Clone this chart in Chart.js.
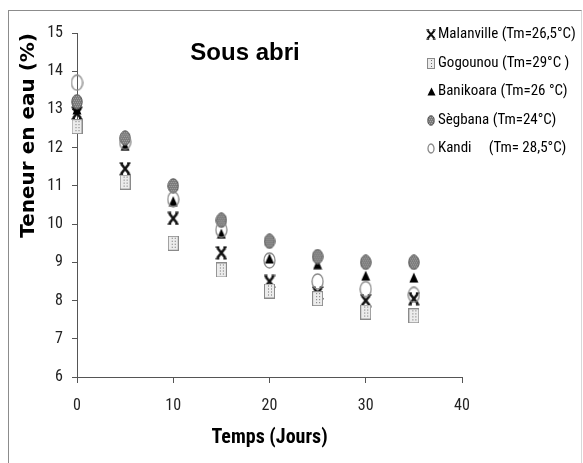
<!DOCTYPE html>
<html>
<head>
<meta charset="utf-8">
<script src="https://cdn.jsdelivr.net/npm/chart.js@4/dist/chart.umd.min.js"></script>
<style>
html,body{margin:0;padding:0;background:#fff;}
#wrap{position:relative;width:583px;height:463px;}
#frame{position:absolute;left:8px;top:10px;width:572px;height:460px;border-left:1px solid #8c8c8c;border-top:1px solid #8c8c8c;border-right:1px solid #d8d8d8;pointer-events:none;}
</style>
</head>
<body>
<div id="wrap"><canvas id="c" width="583" height="463"></canvas><div id="frame"></div></div>
<script>
// ---- data ----
const days = [0, 5, 10, 15, 20, 25, 30, 35];
const seriesNames = ['Malanville (Tm=26,5°C)', 'Gogounou (Tm=29°C )', 'Banikoara (Tm=26 °C)', 'Sègbana (Tm=24°C)', 'Kandi     (Tm= 28,5°C)'];
const malanville = [12.9, 11.45, 10.15, 9.25, 8.5, 8.2, 8.0, 8.05];
const gogounou   = [12.55, 11.1, 9.5, 8.8, 8.25, 8.05, 7.7, 7.6];
const banikoara  = [13.0, 12.05, 10.6, 9.75, 9.1, 8.95, 8.65, 8.6];
const segbana    = [13.2, 12.25, 11.0, 10.1, 9.55, 9.15, 9.0, 9.0];
const kandi      = [13.7, 12.15, 10.65, 9.85, 9.05, 8.5, 8.3, 8.15];
const yTicks = [6, 7, 8, 9, 10, 11, 12, 13, 14, 15];
const xTicks = [0, 10, 20, 30, 40];
const chartTitle = 'Sous abri';
const xTitle = 'Temps (Jours)';
const yTitle = 'Teneur en eau (%)';

const NARROW = '"Liberation Sans Narrow", "Roboto Condensed", Roboto, sans-serif';

// ---- marker images ----
function mk(w, h, draw) {
  const c = document.createElement('canvas');
  c.width = w; c.height = h;
  draw(c.getContext('2d'), w, h);
  return c;
}
function xMark(s) {
  return mk(Math.round(12*s), Math.round(14*s), (g, w, h) => {
    g.strokeStyle = '#111'; g.lineCap = 'butt';
    g.lineWidth = 2.6*s;
    g.beginPath(); g.moveTo(2*s, 2*s); g.lineTo(w-2*s, h-2*s); g.moveTo(w-2*s, 2*s); g.lineTo(2*s, h-2*s); g.stroke();
    g.lineWidth = 1.6*s;
    g.beginPath(); g.moveTo(0.5*s, 1.2*s); g.lineTo(4*s, 1.2*s); g.moveTo(w-4*s, 1.2*s); g.lineTo(w-0.5*s, 1.2*s);
    g.moveTo(0.5*s, h-1.2*s); g.lineTo(4*s, h-1.2*s); g.moveTo(w-4*s, h-1.2*s); g.lineTo(w-0.5*s, h-1.2*s); g.stroke();
  });
}
function sqMark(s) {
  return mk(Math.round(11*s), Math.round(15*s), (g, w, h) => {
    g.fillStyle = '#ececec'; g.fillRect(0, 0, w, h);
    g.fillStyle = '#6a6a6a';
    for (let yy = 2; yy < h-1; yy += 3) for (let xx = 2 + ((yy/3)%2 ? 1.5 : 0); xx < w-1; xx += 3) g.fillRect(Math.round(xx), yy, 1, 1);
    g.strokeStyle = '#8a8a8a'; g.lineWidth = 1; g.strokeRect(0.5, 0.5, w-1, h-1);
  });
}
function triMark(s) {
  return mk(Math.round(10*s), Math.round(11*s), (g, w, h) => {
    g.fillStyle = '#000';
    g.beginPath(); g.moveTo(w/2, 0.5); g.lineTo(w-0.5, h-0.5); g.lineTo(0.5, h-0.5); g.closePath(); g.fill();
  });
}
function segMark(s) {
  return mk(Math.round(12*s), Math.round(16*s), (g, w, h) => {
    g.save();
    g.beginPath(); g.ellipse(w/2, h/2, w/2-0.8, h/2-0.8, 0, 0, Math.PI*2); g.closePath();
    g.fillStyle = '#7a7a7a'; g.fill(); g.clip();
    g.fillStyle = '#a8a8a8';
    for (let yy = 0; yy < h; yy += 2) for (let xx = (yy/2)%2; xx < w; xx += 2) g.fillRect(xx, yy, 1, 1);
    g.restore();
    g.beginPath(); g.ellipse(w/2, h/2, w/2-0.8, h/2-0.8, 0, 0, Math.PI*2);
    g.strokeStyle = '#555'; g.lineWidth = 1; g.stroke();
  });
}
function circMark(s) {
  return mk(Math.round(13*s), Math.round(17*s), (g, w, h) => {
    g.beginPath(); g.ellipse(w/2, h/2, w/2-1, h/2-1, 0, 0, Math.PI*2);
    g.strokeStyle = '#8a8a8a'; g.lineWidth = 1.3; g.stroke();
  });
}
const markers = [xMark(1), sqMark(1), triMark(1), segMark(1), circMark(1)];
const legendMarkers = [xMark(0.8), sqMark(0.75), triMark(0.85), segMark(0.7), circMark(0.65)];
const seriesValues = [malanville, gogounou, banikoara, segbana, kandi];

const datasets = seriesValues.map((vals, i) => ({
  label: seriesNames[i],
  data: days.map((d, j) => ({x: d, y: vals[j]})),
  pointStyle: markers[i],
  showLine: false,
  clip: false,
  order: 5 - i
}));

const overlay = {
  id: 'overlay',
  afterDraw(chart) {
    const g = chart.ctx;
    g.save();
    // title
    g.fillStyle = '#000';
    g.font = 'bold 24px "Liberation Sans"';
    g.textAlign = 'center'; g.textBaseline = 'middle';
    g.fillText(chartTitle, 245, 53);
    // legend
    g.font = '15px ' + NARROW;
    g.textAlign = 'left';
    const rowY = [34, 63, 91, 120, 148];
    seriesNames.forEach((n, i) => {
      const m = legendMarkers[i];
      g.drawImage(m, Math.round(431 - m.width/2), Math.round(rowY[i] - m.height/2));
      g.fillText(n, 438, rowY[i]);
    });
    g.restore();
  }
};

new Chart(document.getElementById('c'), {
  type: 'scatter',
  data: { datasets },
  plugins: [overlay],
  options: {
    responsive: false,
    animation: false,
    events: [],
    layout: { padding: { top: 33, right: 121, bottom: 0, left: 0 } },
    plugins: { legend: { display: false }, tooltip: { enabled: false } },
    scales: {
      x: {
        type: 'linear', min: 0, max: 40,
        afterBuildTicks: s => { s.ticks = xTicks.map(v => ({value: v})); },
        afterFit: s => { s.height = 86; },
        grid: { display: true, drawOnChartArea: false, drawTicks: true, tickLength: 6, color: '#555' },
        border: { display: true, color: '#555', width: 1 },
        ticks: { color: '#222', font: { family: NARROW, size: 16 }, padding: 13 },
        title: { display: true, text: xTitle, color: '#000', font: { family: NARROW, size: 20, weight: 'bold' }, padding: { top: 0, bottom: 13 } }
      },
      y: {
        type: 'linear', min: 6, max: 15,
        afterBuildTicks: s => { s.ticks = yTicks.map(v => ({value: v})); },
        afterFit: s => { s.width = 77; },
        grid: { display: true, drawOnChartArea: false, drawTicks: true, tickLength: 5, color: '#555' },
        border: { display: true, color: '#555', width: 1 },
        ticks: { color: '#222', font: { family: NARROW, size: 16 }, padding: 9 },
        title: { display: true, text: yTitle, align: 'end', color: '#000', font: { family: '"DejaVu Sans"', size: 20, weight: 'bold' }, padding: { top: 17, bottom: 0 } }
      }
    }
  }
});
</script>
</body>
</html>
